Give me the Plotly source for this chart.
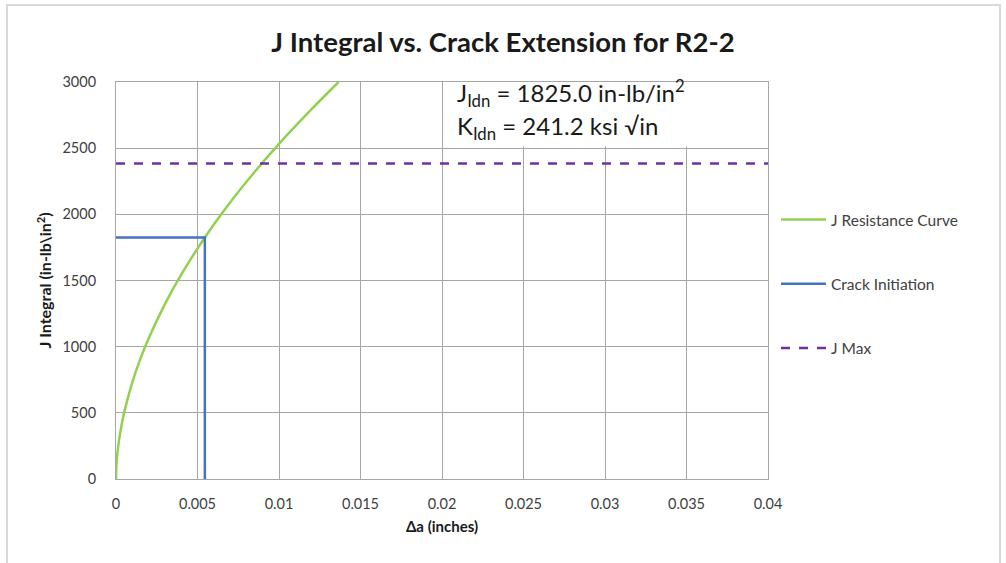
import plotly.graph_objects as go

# J resistance curve
da_curve = [0.0, 0.00003, 0.0001, 0.00025, 0.0005, 0.001, 0.0015, 0.002, 0.003, 0.004,
            0.00545, 0.007, 0.0085, 0.01, 0.012, 0.01365]
j_curve = [0, 110, 211, 345, 502, 731, 910, 1062, 1322, 1544,
           1825, 2089, 2320, 2533, 2795, 3000]

# Crack initiation path
da_init = [0.0, 0.00545, 0.00545]
j_init = [1825, 1825, 0]

# J max line
da_max = [0.0, 0.04]
j_max = [2385, 2385]

x_ticks = [0, 0.005, 0.01, 0.015, 0.02, 0.025, 0.03, 0.035, 0.04]
x_tick_text = ["0", "0.005", "0.01", "0.015", "0.02", "0.025", "0.03", "0.035", "0.04"]
y_ticks = [0, 500, 1000, 1500, 2000, 2500, 3000]

FONT = "Lato"
GRID = "#a6a6a6"
TXT = "#404040"

fig = go.Figure()
fig.add_trace(go.Scatter(x=da_curve, y=j_curve, mode="lines", name="J Resistance Curve",
                         line=dict(color="#92D050", width=2.5, shape="spline", smoothing=0.6),
                         legendgroup="a"))
fig.add_trace(go.Scatter(x=da_init, y=j_init, mode="lines", name="Crack Initiation",
                         line=dict(color="#4472C4", width=2.5), legendgroup="b"))
fig.add_trace(go.Scatter(x=da_max, y=j_max, mode="lines", name="J Max",
                         line=dict(color="#7030A0", width=2.5, dash="dash"), legendgroup="c"))

L, R, T, B = 116, 238, 82, 84
PW, PH = 1006 - L - R, 563 - T - B

def px(xp):
    return (xp - L) / PW

def py(yp):
    return (563 - B - yp) / PH

fig.update_layout(
    width=1006, height=563,
    margin=dict(l=L, r=R, t=T, b=B),
    paper_bgcolor="white", plot_bgcolor="white",
    font=dict(family=FONT, color=TXT, size=14),
    title=dict(text="<b>J Integral vs. Crack Extension for R2-2</b>",
               x=0.5, xref="container", xanchor="center", y=1 - 42 / 563, yanchor="middle",
               font=dict(size=27.5, color="#1a1a1a", family=FONT)),
    showlegend=True,
    legend=dict(x=px(776), xanchor="left", y=py(203), yanchor="top",
                font=dict(size=15.5, color=TXT, family=FONT), itemwidth=45,
                traceorder="grouped", tracegroupgap=41, bgcolor="rgba(0,0,0,0)"),
    xaxis=dict(range=[0, 0.04], tickvals=x_ticks, ticktext=x_tick_text,
               showgrid=True, gridcolor=GRID, gridwidth=1, zeroline=False,
               showline=True, linecolor=GRID, linewidth=1, mirror=True,
               ticks="", ticklabelstandoff=12, tickfont=dict(size=14.5, color=TXT),
               title=dict(text="<b>Δa (inches)</b>", font=dict(size=15, color="#1a1a1a"), standoff=10)),
    yaxis=dict(range=[0, 3000], tickvals=y_ticks,
               showgrid=True, gridcolor=GRID, gridwidth=1, zeroline=False,
               showline=True, linecolor=GRID, linewidth=1, mirror=True,
               ticks="", ticklabelstandoff=16, tickfont=dict(size=14.5, color=TXT),
               title=dict(text="<b>J Integral (in-lb\\in<sup>2</sup>)</b>", font=dict(size=16, color="#1a1a1a"), standoff=6)),
)

# white text box covering grid
fig.add_shape(type="rect", xref="x", yref="y", x0=0.0204, x1=0.0399, y0=2515, y1=3000,
              fillcolor="white", line=dict(width=0), layer="between")
fig.add_annotation(xref="x", yref="y", x=0.0208, y=2920, xanchor="left", yanchor="middle",
                   text="J<sub>Idn</sub> = 1825.0 in-lb/in<sup>2</sup>", showarrow=False,
                   font=dict(size=24, color="#1a1a1a", family=FONT))
fig.add_annotation(xref="x", yref="y", x=0.0208, y=2655, xanchor="left", yanchor="middle",
                   text="K<sub>Idn</sub> = 241.2 ksi √in", showarrow=False,
                   font=dict(size=24, color="#1a1a1a", family=FONT))

# outer chart border
fig.add_shape(type="rect", xref="paper", yref="paper", x0=px(7), x1=px(1000), y0=py(575), y1=py(5),
              line=dict(color="#d9d9d9", width=2), fillcolor="rgba(0,0,0,0)", layer="below")

fig.write_html("out.html")
